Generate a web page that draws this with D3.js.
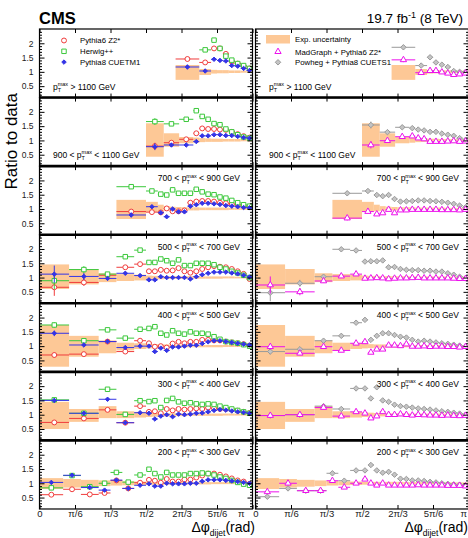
<!DOCTYPE html>
<html>
<head>
<meta charset="utf-8">
<script src="https://cdn.jsdelivr.net/npm/d3@7"></script>
<style>
  body { margin: 0; background: #fff; }
  svg { display: block; font-family: "Liberation Sans", Arial, Helvetica, sans-serif; }
</style>
</head>
<body>
<div id="chart"></div>
<script>
// Ratio to data of dijet azimuthal decorrelation, 7 pT(max) slices
// values

// bin edges in degrees, one list per pT slice (top to bottom)
const binEdges = [
  [115,135,145,150,155,160,165,170,175,180],
  [90,105,118,130,135,140,145,150,155,160,165,170,175,180],
  [65,90,100,105,110,115,120,125,130,135,140,145,150,155,160,165,170,175,180],
  [0,25,50,65,80,90,95,100,105,110,115,120,125,130,135,140,145,150,155,160,165,170,175,180],
  [0,25,50,65,80,90,95,100,105,110,115,120,125,130,135,140,145,150,155,160,165,170,175,180],
  [0,25,50,65,80,90,95,100,105,110,115,120,125,130,135,140,145,150,155,160,165,170,175,180],
  [0,20,35,50,60,70,80,90,95,100,105,110,115,120,125,130,135,140,145,150,155,160,165,170,175,180]
];

const labelPre  = ["", "900 < ", "700 < ", "500 < ", "400 < ", "300 < ", "200 < "];
const labelPost = [" > 1100 GeV", " < 1100 GeV", " < 900 GeV", " < 700 GeV", " < 500 GeV", " < 400 GeV", " < 300 GeV"];

const pythia6 = [
  [1.45,1.33,1.82,1.82,1.63,1.36,1.29,1.2,1.12],
  [0.8,0.92,1.04,1.25,1.42,1.4,1.4,1.38,1.37,1.3,1.22,1.15,1.1],
  [0.91,0.89,0.88,1.02,0.92,0.92,0.95,1.22,1.26,1.28,1.28,1.26,1.22,1.2,1.17,1.14,1.1,1.08],
  [0.66,0.83,1.08,1.36,1.47,1.22,1.22,1.27,1.24,1.25,1.33,1.22,1.17,1.22,1.3,1.36,1.4,1.38,1.36,1.3,1.22,1.13,0.95],
  [0.69,0.72,1.16,0.81,1.19,1.1,0.98,1.0,0.95,1.09,1.15,1.1,1.15,1.15,1.22,1.22,1.2,1.2,1.16,1.13,1.1,1.07,1.02],
  [0.73,0.87,1.17,0.72,1.3,1.1,1.12,1.05,1.2,1.15,1.2,1.18,1.2,1.22,1.2,1.25,1.22,1.2,1.2,1.18,1.14,1.1,1.06],
  [0.6,0.79,0.61,0.66,1.1,0.82,1.02,1.12,1.09,1.02,1.15,1.06,1.06,1.13,1.13,1.2,1.27,1.34,1.34,1.3,1.24,1.17,1.1,1.06,0.98]
];
const herwig = [
  [null,1.77,2.11,1.82,1.55,1.41,1.29,1.22,1.12],
  [1.66,1.58,1.74,2.04,1.84,1.74,1.59,1.55,1.4,1.3,1.2,1.12,1.08],
  [1.78,1.63,1.52,1.49,1.67,1.55,1.55,1.55,1.69,1.6,1.52,1.5,1.42,1.38,1.3,1.22,1.15,1.1],
  [0.89,1.28,1.12,1.73,1.96,1.53,1.53,1.65,1.59,1.5,1.62,1.42,1.42,1.5,1.5,1.5,1.45,1.36,1.3,1.22,1.16,1.08,1.0],
  [1.74,1.19,1.57,1.28,1.59,1.62,1.68,1.45,1.39,1.54,1.45,1.42,1.5,1.45,1.45,1.42,1.33,1.24,1.16,1.13,1.1,1.05,1.0],
  [1.52,1.05,1.89,1.01,1.49,1.46,1.49,1.25,1.5,1.57,1.45,1.4,1.42,1.38,1.36,1.38,1.36,1.3,1.25,1.2,1.15,1.1,1.05],
  [0.84,1.27,0.88,1.0,1.38,1.04,1.29,1.49,1.34,1.22,1.38,1.29,1.29,1.29,1.34,1.34,1.36,1.34,1.29,1.22,1.17,1.1,1.03,0.97,0.93]
];
const pythia8 = [
  [1.17,1.03,1.44,1.4,1.38,1.22,1.2,1.12,1.05],
  [0.78,0.84,0.84,0.96,1.16,1.16,1.2,1.2,1.17,1.17,1.14,1.1,1.08],
  [0.79,1.08,0.87,0.73,1.0,0.9,0.9,1.1,1.15,1.2,1.2,1.18,1.16,1.12,1.1,1.08,1.05,1.04],
  [1.12,1.04,0.97,1.15,1.07,0.92,0.92,1.03,1.0,1.0,1.0,1.0,0.95,1.03,1.1,1.15,1.19,1.19,1.19,1.16,1.13,1.08,1.02],
  [1.45,1.04,1.16,0.95,1.0,1.0,0.81,0.93,0.85,0.97,0.97,1.0,1.03,1.03,1.09,1.15,1.19,1.19,1.16,1.13,1.1,1.07,1.04],
  [1.5,1.05,1.54,0.72,1.07,1.05,0.85,0.95,1.0,0.93,1.02,1.0,1.02,1.05,1.06,1.1,1.15,1.18,1.16,1.13,1.1,1.08,1.05],
  [1.03,1.28,0.85,0.76,1.11,0.82,0.93,0.98,0.9,0.9,1.0,0.98,0.98,0.98,1.0,1.0,1.07,1.12,1.12,1.12,1.1,1.08,1.06,1.03,1.0]
];
const madgraph = [
  [1.42,0.97,1.04,1.04,0.99,0.95,0.9,0.92,0.95],
  [0.84,0.99,1.13,1.15,1.08,1.05,0.96,0.96,0.96,0.97,0.98,0.96,0.97],
  [0.68,0.91,0.82,0.86,0.98,0.86,0.96,0.96,0.98,0.98,0.98,0.98,0.98,0.97,0.97,0.97,0.96,0.98],
  [0.74,0.5,0.88,1.05,1.12,0.97,0.98,0.99,0.98,0.95,0.97,0.98,0.98,0.99,1.0,0.98,0.98,0.98,0.98,0.98,0.97,0.96,0.96],
  [0.98,0.75,0.98,0.85,1.1,1.15,0.78,0.89,0.89,1.03,1.03,1.01,1.07,0.99,0.99,1.0,0.98,0.99,0.99,0.98,0.98,0.96,0.98],
  [0.97,1.0,1.25,0.95,1.1,1.05,0.88,0.95,1.1,1.0,1.0,1.02,1.0,0.98,1.0,0.99,0.98,0.98,0.97,0.98,0.97,0.96,0.97],
  [0.7,1.0,0.74,0.74,1.09,0.86,1.0,1.14,1.0,0.93,1.0,0.93,0.93,0.93,0.93,0.93,0.94,0.93,0.93,0.93,0.93,0.92,0.92,0.92,0.9]
];
const powheg = [
  [1.86,1.22,1.51,1.33,1.25,1.17,1.03,1.0,1.0],
  [1.54,1.29,1.46,1.43,1.38,1.35,1.3,1.3,1.24,1.2,1.16,1.08,1.02],
  [1.55,1.63,1.49,1.45,1.49,1.35,1.26,1.27,1.28,1.3,1.3,1.28,1.27,1.25,1.22,1.18,1.12,1.06],
  [0.47,0.8,1.03,1.99,1.95,1.56,1.57,1.57,1.6,1.36,1.37,1.3,1.27,1.26,1.26,1.24,1.24,1.21,1.21,1.15,1.1,1.03,0.97],
  [0.81,0.89,1.19,1.36,1.82,1.92,1.22,1.36,1.45,1.45,1.39,1.33,1.3,1.22,1.16,1.19,1.16,1.13,1.1,1.08,1.05,1.02,0.98],
  [0.97,1.0,1.3,1.2,1.92,1.92,1.57,1.96,1.5,1.45,1.35,1.3,1.28,1.25,1.22,1.2,1.18,1.15,1.12,1.1,1.07,1.04,1.0],
  [0.53,0.82,0.74,0.74,1.35,1.09,1.45,1.45,1.64,1.45,1.37,1.4,1.3,1.16,1.15,1.1,1.1,1.08,1.05,1.03,1.0,0.98,0.96,0.95,0.93]
];

// experimental uncertainty band (lower / upper edge)
const uncLow = [
  [0.72,0.89,0.94,0.95,0.95,0.96,0.96,0.97,0.97],
  [0.43,0.78,0.9,0.92,0.94,0.95,0.95,0.95,0.96,0.96,0.96,0.97,0.97],
  [0.65,0.9,0.92,0.94,0.94,0.95,0.95,0.95,0.95,0.96,0.96,0.96,0.96,0.96,0.97,0.97,0.97,0.97],
  [0.6,0.76,0.84,0.88,0.9,0.93,0.94,0.94,0.95,0.95,0.95,0.95,0.96,0.96,0.96,0.96,0.96,0.96,0.97,0.97,0.97,0.97,0.97],
  [0.28,0.63,0.75,0.85,0.9,0.92,0.93,0.94,0.94,0.95,0.95,0.95,0.96,0.96,0.96,0.96,0.96,0.96,0.97,0.97,0.97,0.97,0.97],
  [0.5,0.75,0.88,0.88,0.9,0.92,0.93,0.94,0.94,0.95,0.95,0.95,0.96,0.96,0.96,0.96,0.96,0.96,0.97,0.97,0.97,0.97,0.97],
  [0.8,0.85,0.88,0.9,0.92,0.93,0.94,0.95,0.95,0.95,0.95,0.96,0.96,0.96,0.96,0.96,0.96,0.96,0.97,0.97,0.97,0.97,0.97,0.97,0.97]
];
const uncHigh = [
  [1.24,1.1,1.07,1.06,1.06,1.05,1.05,1.04,1.04],
  [1.6,1.25,1.12,1.1,1.08,1.07,1.06,1.06,1.05,1.05,1.05,1.04,1.04],
  [1.32,1.25,1.15,1.1,1.08,1.07,1.06,1.06,1.06,1.05,1.05,1.05,1.05,1.05,1.04,1.04,1.04,1.04],
  [1.46,1.3,1.15,1.12,1.1,1.07,1.06,1.06,1.05,1.05,1.05,1.05,1.05,1.04,1.04,1.04,1.04,1.04,1.04,1.04,1.03,1.03,1.03],
  [1.74,1.36,1.2,1.12,1.1,1.08,1.07,1.06,1.06,1.05,1.05,1.05,1.05,1.04,1.04,1.04,1.04,1.04,1.04,1.04,1.03,1.03,1.03],
  [1.45,1.2,1.3,1.12,1.1,1.08,1.07,1.06,1.06,1.05,1.05,1.05,1.05,1.04,1.04,1.04,1.04,1.04,1.04,1.04,1.03,1.03,1.03],
  [1.18,1.15,1.12,1.1,1.08,1.07,1.06,1.05,1.05,1.05,1.05,1.05,1.05,1.05,1.04,1.04,1.04,1.04,1.04,1.04,1.04,1.03,1.03,1.03,1.03]
];
// statistical error on the MC points (only the first bins are visible)
const statErr = [
  [0.08,0.04],
  [0.12,0.06,0.03],
  [0.08,0.06,0.03],
  [0.3,0.12,0.06,0.03],
  [0.1,0.05,0.05,0.03],
  [0.08,0.06,0.05,0.03],
  [0.06,0.05,0.04,0.04,0.03]
];

const xTickDeg = [0, 30, 60, 90, 120, 150, 180];
const xTickText = ["0", "\u03c0/6", "\u03c0/3", "\u03c0/2", "2\u03c0/3", "5\u03c0/6", "\u03c0"];

// ---- layout ----
const width = 468, height = 538;
const plotTop = 29, panelH = 68.57, nPanels = 7;
const colRange = [[39.5, 252.5], [255.5, 468.5]];
const bandColor = "#fdc896";

// symmetric diamond (d3's own diamond is too tall)
const rootDiamond = {
  draw(ctx, size) {
    const r = Math.sqrt(size / 2);
    ctx.moveTo(0, -r); ctx.lineTo(r, 0); ctx.lineTo(0, r); ctx.lineTo(-r, 0); ctx.closePath();
  }
};

const styles = {
  pythia6:  {color: "#f03c3c", type: d3.symbolCircle,   size: 19, fill: "none"},
  herwig:   {color: "#3cc83c", type: d3.symbolSquare,   size: 20, fill: "none"},
  pythia8:  {color: "#3434e6", type: rootDiamond,       size: 10, fill: "#3434e6"},
  madgraph: {color: "#ec10ec", type: d3.symbolTriangle, size: 17, fill: "none"},
  powheg:   {color: "#9a9a9a", type: rootDiamond,       size: 15, fill: "#c4c4c4"}
};

const svg = d3.select("#chart")
  .append("svg")
  .attr("width", width)
  .attr("height", height);

const xScales = colRange.map(r => d3.scaleLinear().domain([0, 180]).range(r));

function drawSeries(g, x, y, p, vals, st) {
  const edges = binEdges[p];
  const pts = vals.map((v, i) => ({v, i, lo: edges[i], hi: edges[i + 1], e: statErr[p][i] || 0}))
    .filter(d => d.v != null);
  g.selectAll(null).data(pts).join("line")
    .attr("x1", d => x(d.lo)).attr("x2", d => x(d.hi))
    .attr("y1", d => y(d.v)).attr("y2", d => y(d.v))
    .attr("stroke", st.color).attr("stroke-width", 1);
  g.selectAll(null).data(pts.filter(d => d.e > 0)).join("line")
    .attr("x1", d => x((d.lo + d.hi) / 2)).attr("x2", d => x((d.lo + d.hi) / 2))
    .attr("y1", d => y(d.v - d.e)).attr("y2", d => y(d.v + d.e))
    .attr("stroke", st.color).attr("stroke-width", 1);
  g.selectAll(null).data(pts).join("path")
    .attr("transform", d => `translate(${x((d.lo + d.hi) / 2)},${y(d.v)})`)
    .attr("d", d3.symbol().type(st.type).size(st.size)())
    .attr("fill", st.fill === "none" ? "#fff" : st.fill)
    .attr("stroke", st.color).attr("stroke-width", 1);
}

function ptLabel(g, x, yb, anchor, pre, post) {
  const t = g.append("text").attr("x", x).attr("y", yb)
    .attr("text-anchor", anchor).attr("font-size", 8.5).attr("fill", "#000");
  t.append("tspan").text(pre + "p");
  t.append("tspan").attr("font-size", 5.5).attr("dy", 2.5).text("T");
  t.append("tspan").attr("font-size", 5.5).attr("dx", -3.4).attr("dy", -6).text("max");
  t.append("tspan").attr("dy", 3.5).text(post);
}

const minorVals = d3.range(0.2, 2.45, 0.1).filter(v => Math.abs(v * 2 - Math.round(v * 2)) > 0.01);

for (let p = 0; p < nPanels; p++) {
  const y0 = plotTop + p * panelH, y1 = y0 + panelH;
  const y = d3.scaleLinear().domain([0.1, 2.5]).range([y1, y0]);

  xScales.forEach((x, c) => {
    const clipId = `clip-${p}-${c}`;
    svg.append("clipPath").attr("id", clipId)
      .append("rect").attr("x", x.range()[0]).attr("y", y0)
      .attr("width", x.range()[1] - x.range()[0]).attr("height", panelH);
    const g = svg.append("g").attr("clip-path", `url(#${clipId})`);

    // uncertainty band
    const edges = binEdges[p];
    g.selectAll(null).data(uncLow[p].map((lo, i) => ({lo, hi: uncHigh[p][i], a: edges[i], b: edges[i + 1]})))
      .join("rect")
      .attr("x", d => x(d.a)).attr("width", d => x(d.b) - x(d.a))
      .attr("y", d => y(d.hi)).attr("height", d => y(d.lo) - y(d.hi))
      .attr("fill", bandColor);

    if (c === 0) {
      drawSeries(g, x, y, p, pythia6[p], styles.pythia6);
      drawSeries(g, x, y, p, herwig[p], styles.herwig);
      drawSeries(g, x, y, p, pythia8[p], styles.pythia8);
    } else {
      drawSeries(g, x, y, p, powheg[p], styles.powheg);
      drawSeries(g, x, y, p, madgraph[p], styles.madgraph);
    }

    // axes with inward ticks
    const xl = x.range()[0], xr = x.range()[1];
    const yAx = svg.append("g").attr("transform", `translate(${xl},0)`)
      .call(d3.axisLeft(y).tickValues([0.5, 1, 1.5, 2]).tickSize(-5).tickSizeOuter(0).tickPadding(6)
        .tickFormat(c === 0 ? d3.format("") : ""));
    yAx.select(".domain").remove();
    yAx.selectAll("text").attr("font-size", 8.5).attr("font-family", "Liberation Sans, Arial, sans-serif").attr("fill", "#222");
    const yMin = svg.append("g").attr("transform", `translate(${xl},0)`)
      .call(d3.axisLeft(y).tickValues(minorVals).tickSize(-2.5).tickSizeOuter(0).tickFormat(""));
    yMin.select(".domain").remove();
    const yR = svg.append("g").attr("transform", `translate(${xr},0)`)
      .call(d3.axisRight(y).tickValues([0.5, 1, 1.5, 2]).tickSize(-5).tickSizeOuter(0).tickFormat(""));
    yR.select(".domain").remove();
    const yRm = svg.append("g").attr("transform", `translate(${xr},0)`)
      .call(d3.axisRight(y).tickValues(minorVals).tickSize(-2.5).tickSizeOuter(0).tickFormat(""));
    yRm.select(".domain").remove();

    const xB = svg.append("g").attr("transform", `translate(0,${y1})`)
      .call(d3.axisBottom(x).tickValues(xTickDeg).tickSize(-4).tickSizeOuter(0).tickPadding(1.5)
        .tickFormat((d, i) => p === nPanels - 1 ? xTickText[i] : ""));
    xB.select(".domain").remove();
    xB.selectAll("text").attr("font-size", 9.5).attr("font-family", "Liberation Sans, Arial, sans-serif").attr("fill", "#222");
    if (p === nPanels - 1) {
      xB.selectAll(".tick").filter(d => d === 180).select("text")
        .attr("text-anchor", "end").attr("dx", c === 0 ? -8.5 : -2);
    }
    const xT = svg.append("g").attr("transform", `translate(0,${y0})`)
      .call(d3.axisTop(x).tickValues(xTickDeg).tickSize(-4).tickSizeOuter(0).tickFormat(""));
    xT.select(".domain").remove();

    // frame
    svg.append("rect").attr("x", xl).attr("y", y0).attr("width", xr - xl).attr("height", panelH)
      .attr("fill", "none").attr("stroke", "#000").attr("stroke-width", 1.2);

    // slice label
    if (p < 2) {
      ptLabel(svg, xl + 13.5, y1 - (p === 0 ? 8 : 8.5), "start", labelPre[p], labelPost[p]);
    } else {
      ptLabel(svg, c === 0 ? 240 : 459, y0 + 15, "end", labelPre[p], labelPost[p]);
    }
  });
}

// thicker separators between slices
for (let p = 1; p < nPanels; p++) {
  const yy = plotTop + p * panelH;
  colRange.forEach(r => {
    svg.append("line").attr("x1", r[0]).attr("x2", r[1]).attr("y1", yy).attr("y2", yy)
      .attr("stroke", "#000").attr("stroke-width", 2.6);
  });
}

// legends
const legL = [
  {name: "Pythia6 Z2*", st: styles.pythia6},
  {name: "Herwig++", st: styles.herwig},
  {name: "Pythia8 CUETM1", st: styles.pythia8}
];
legL.forEach((d, i) => {
  const yy = 40.5 + i * 10.8;
  svg.append("path").attr("transform", `translate(64,${yy})`)
    .attr("d", d3.symbol().type(d.st.type).size(d.st.size)())
    .attr("fill", d.st.fill === "none" ? "#fff" : d.st.fill)
    .attr("stroke", d.st.color).attr("stroke-width", 1);
  svg.append("text").attr("x", 80).attr("y", yy + 2.8).attr("font-size", 7.8).attr("fill", "#000").text(d.name);
});

svg.append("rect").attr("x", 266).attr("y", 35).attr("width", 24).attr("height", 8.5).attr("fill", bandColor);
svg.append("text").attr("x", 295).attr("y", 42).attr("font-size", 7.8).attr("fill", "#000").text("Exp. uncertainty");
const legR = [
  {name: "MadGraph + Pythia6 Z2*", st: styles.madgraph},
  {name: "Powheg + Pythia8 CUETS1", st: styles.powheg}
];
legR.forEach((d, i) => {
  const yy = 51.7 + i * 10.6;
  svg.append("path").attr("transform", `translate(278,${yy})`)
    .attr("d", d3.symbol().type(d.st.type).size(d.st.size)())
    .attr("fill", d.st.fill === "none" ? "#fff" : d.st.fill)
    .attr("stroke", d.st.color).attr("stroke-width", 1);
  svg.append("text").attr("x", 295).attr("y", yy + 2.8).attr("font-size", 7.8).attr("fill", "#000").text(d.name);
});

// titles
svg.append("text").attr("x", 39).attr("y", 24).attr("font-size", 16.5).attr("font-weight", "bold").text("CMS");
const lumi = svg.append("text").attr("x", 463).attr("y", 23).attr("text-anchor", "end").attr("font-size", 13.5);
lumi.append("tspan").text("19.7 fb");
lumi.append("tspan").attr("font-size", 9).attr("dy", -5.5).text("-1");
lumi.append("tspan").attr("dy", 5.5).text(" (8 TeV)");

svg.append("text")
  .attr("transform", "translate(16.5,93) rotate(-90)")
  .attr("text-anchor", "end").attr("font-size", 17).text("Ratio to data");

[255, 468].forEach(xe => {
  const t = svg.append("text").attr("x", xe).attr("y", 532).attr("text-anchor", "end").attr("font-size", 14);
  t.append("tspan").text("\u0394\u03c6");
  t.append("tspan").attr("font-size", 8.5).attr("dy", 3.6).text("dijet");
  t.append("tspan").attr("dy", -3.6).text("(rad)");
});
</script>
</body>
</html>
